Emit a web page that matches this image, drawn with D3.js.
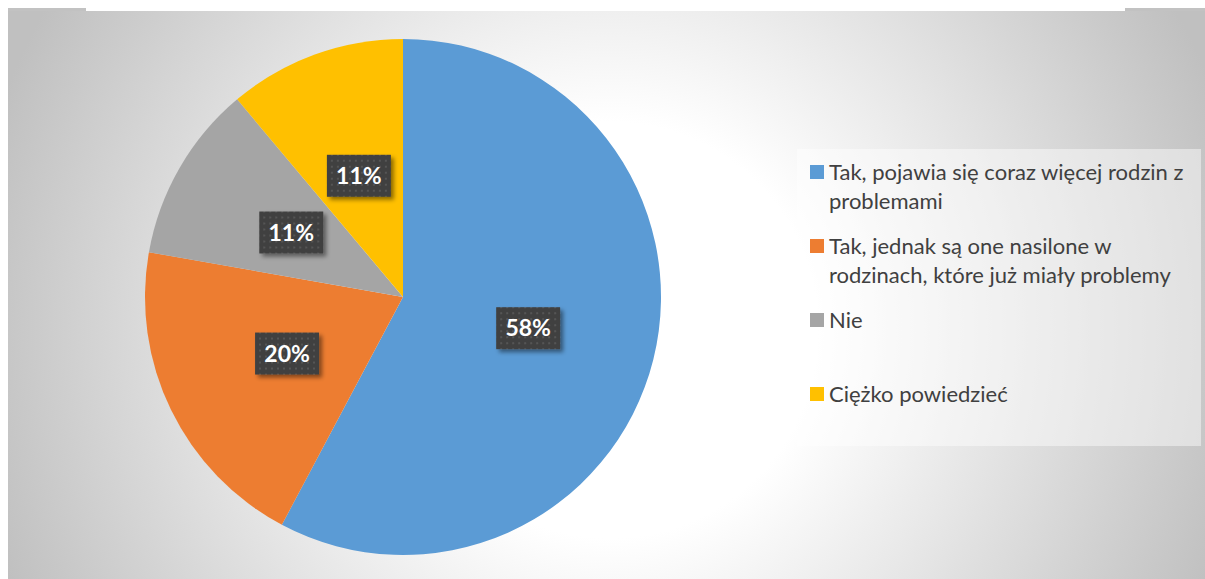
<!DOCTYPE html>
<html>
<head>
<meta charset="utf-8">
<script src="https://cdn.jsdelivr.net/npm/d3@7"></script>
<style>
  html, body { margin: 0; padding: 0; background: #fff; }
  svg { display: block; font-family: Lato, "Open Sans", sans-serif; }
</style>
</head>
<body>
<div id="chart"></div>
<script>
// survey answers (share of respondents)
const categories = [
    "Tak, pojawia się coraz więcej rodzin z problemami",
    "Tak, jednak są one nasilone w rodzinach, które już miały problemy",
    "Nie",
    "Ciężko powiedzieć"
];
const values = [26, 9, 5, 5];
const colors = ["#5b9bd5", "#ed7d31", "#a5a5a5", "#ffc000"];

const width = 1205, height = 579;

let svg = d3.select("#chart").append("svg")
    .attr("width", width)
    .attr("height", height);

let defs = svg.append("defs");

// background fill: light in the middle, grey towards the corners
let grad = defs.append("radialGradient")
    .attr("id", "bg")
    .attr("gradientUnits", "userSpaceOnUse")
    .attr("cx", 610).attr("cy", 330).attr("r", 650);
grad.append("stop").attr("offset", 0).attr("stop-color", "#ffffff");
grad.append("stop").attr("offset", 0.32).attr("stop-color", "#ffffff");
grad.append("stop").attr("offset", 1).attr("stop-color", "#c0c0c0");

// dotted pattern for the data label boxes
let pat = defs.append("pattern")
    .attr("id", "dots")
    .attr("patternUnits", "userSpaceOnUse")
    .attr("width", 6).attr("height", 6);
pat.append("rect").attr("width", 6).attr("height", 6).attr("fill", "#404040");
pat.append("rect").attr("x", 2).attr("y", 2).attr("width", 2).attr("height", 2).attr("fill", "#555555");

let shadow = defs.append("filter")
    .attr("id", "shadow")
    .attr("x", "-30%").attr("y", "-30%")
    .attr("width", "160%").attr("height", "160%");
shadow.append("feDropShadow")
    .attr("dx", 3).attr("dy", 3)
    .attr("stdDeviation", 2)
    .attr("flood-color", "#000")
    .attr("flood-opacity", 0.45);

// chart area
svg.append("rect")
    .attr("x", 8).attr("y", 11)
    .attr("width", width).attr("height", height)
    .attr("fill", "url(#bg)");
// little corner tabs at the top
svg.append("rect").attr("x", 8).attr("y", 8).attr("width", 78).attr("height", 3).attr("fill", "#c2c2c2");
svg.append("rect").attr("x", 1125).attr("y", 8).attr("width", 80).attr("height", 3).attr("fill", "#c2c2c2");

// pie
const cx = 403, cy = 297, radius = 258;
let pie = d3.pie().sort(null).value(d => d);
let arc = d3.arc().innerRadius(0).outerRadius(radius);
let arcs = pie(values);
const total = d3.sum(values);

let g = svg.append("g").attr("transform", "translate(" + cx + "," + cy + ")");

g.selectAll("path")
    .data(arcs)
    .join("path")
    .attr("d", arc)
    .attr("fill", (d, i) => colors[i]);

// data labels
let labels = g.selectAll(".lbl")
    .data(arcs)
    .join("g")
    .attr("class", "lbl")
    .attr("transform", d => "translate(" + arc.centroid(d) + ")");

labels.append("rect")
    .attr("x", -32).attr("y", -21)
    .attr("width", 64).attr("height", 42)
    .attr("fill", "url(#dots)")
    .attr("filter", "url(#shadow)");

labels.append("text")
    .attr("text-anchor", "middle")
    .attr("y", 8)
    .attr("fill", "#fff")
    .attr("font-weight", 700)
    .attr("font-size", 23)
    .text(d => Math.round(d.data / total * 100) + "%");

// legend
svg.append("rect")
    .attr("x", 797).attr("y", 149)
    .attr("width", 404).attr("height", 297)
    .attr("fill", "#fff")
    .attr("fill-opacity", 0.45);

let legend = svg.append("g");
const maxTextWidth = 368;

categories.forEach((name, i) => {
    let item = legend.append("g")
        .attr("transform", "translate(810," + (165 + i * 74) + ")");
    item.append("rect")
        .attr("width", 14).attr("height", 14)
        .attr("fill", colors[i]);
    let text = item.append("text")
        .attr("x", 19)
        .attr("fill", "#404040")
        .attr("font-size", 22);

    // wrap words into lines
    let words = name.split(" ");
    let line = [];
    let lineNo = 0;
    let tspan = text.append("tspan").attr("x", 19).attr("y", 15);
    words.forEach(w => {
        line.push(w);
        tspan.text(line.join(" "));
        if (tspan.node().getComputedTextLength() > maxTextWidth && line.length > 1) {
            line.pop();
            tspan.text(line.join(" "));
            line = [w];
            lineNo++;
            tspan = text.append("tspan").attr("x", 19).attr("y", 15 + lineNo * 29).text(w);
        }
    });
});
</script>
</body>
</html>
